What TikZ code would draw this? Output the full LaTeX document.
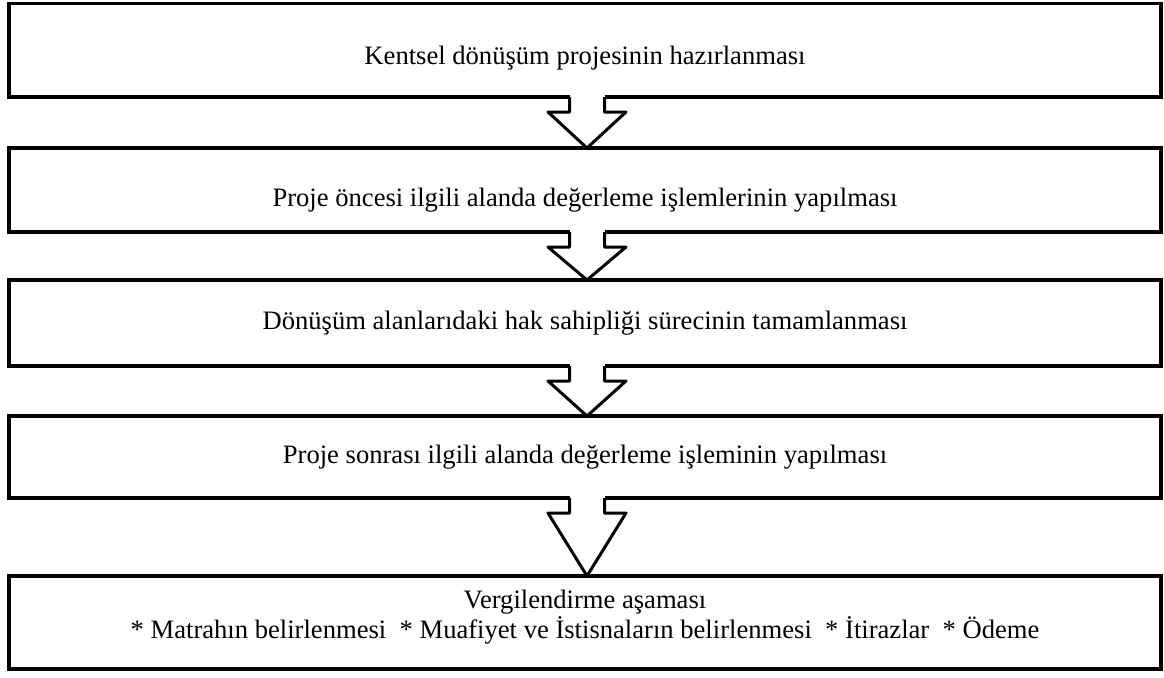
\documentclass[tikz,border=0pt]{standalone}
\usepackage{fontspec}
\setmainfont{Liberation Serif}
\usepackage{tikz}
\usetikzlibrary{positioning}

\begin{document}
\begin{tikzpicture}[stepbox/.style={rectangle, draw=black, line width=1.75pt, minimum width=576pt, outer sep=0pt, align=center, font=\fontsize{13.3}{15}\selectfont},
    downarrow/.style={draw=black, line width=1.5pt, line join=round}]

        \useasboundingbox (0,0) rectangle (582pt,-338.5pt);

        \node[stepbox, minimum height=46.75pt, text height=17.3pt, text depth=2.9pt] (b1) at (292.5pt,-25.125pt) {Kentsel dönüşüm projesinin hazırlanması};
        \node[stepbox, minimum height=42pt, text height=19.3pt, text depth=2.9pt] (b2) [below=25.5pt of b1] {Proje öncesi ilgili alanda değerleme işlemlerinin yapılması};
        \node[stepbox, minimum height=43pt] (b3) [below=24pt of b2] {Dönüşüm alanlarıdaki hak sahipliği sürecinin tamamlanması};
        \node[stepbox, minimum height=41pt] (b4) [below=25pt of b3] {Proje sonrası ilgili alanda değerleme işleminin yapılması};
        \node[stepbox, minimum height=46.5pt, text depth=8pt] (b5) [below=39pt of b4] {Vergilendirme aşaması\\
            * Matrahın belirlenmesi~~* Muafiyet ve İstisnaların belirlenmesi~~* İtirazlar~~* Ödeme};

        % hollow block arrows between the steps
        \foreach \a/\b in {b1/b2, b2/b3, b3/b4, b4/b5} {
            \fill[white] ([xshift=-7.75pt,yshift=1pt]\a.south) rectangle ([xshift=9.75pt,yshift=-7.5pt]\a.south);
            \draw[downarrow] ([xshift=-7.75pt]\a.south) -- ([xshift=-7.75pt,yshift=-7.5pt]\a.south)
                -- ([xshift=-18.5pt,yshift=-7.5pt]\a.south) -- ([xshift=1pt]\b.north)
                -- ([xshift=20.5pt,yshift=-7.5pt]\a.south) -- ([xshift=9.75pt,yshift=-7.5pt]\a.south)
                -- ([xshift=9.75pt]\a.south);
        }

\end{tikzpicture}
\end{document}
